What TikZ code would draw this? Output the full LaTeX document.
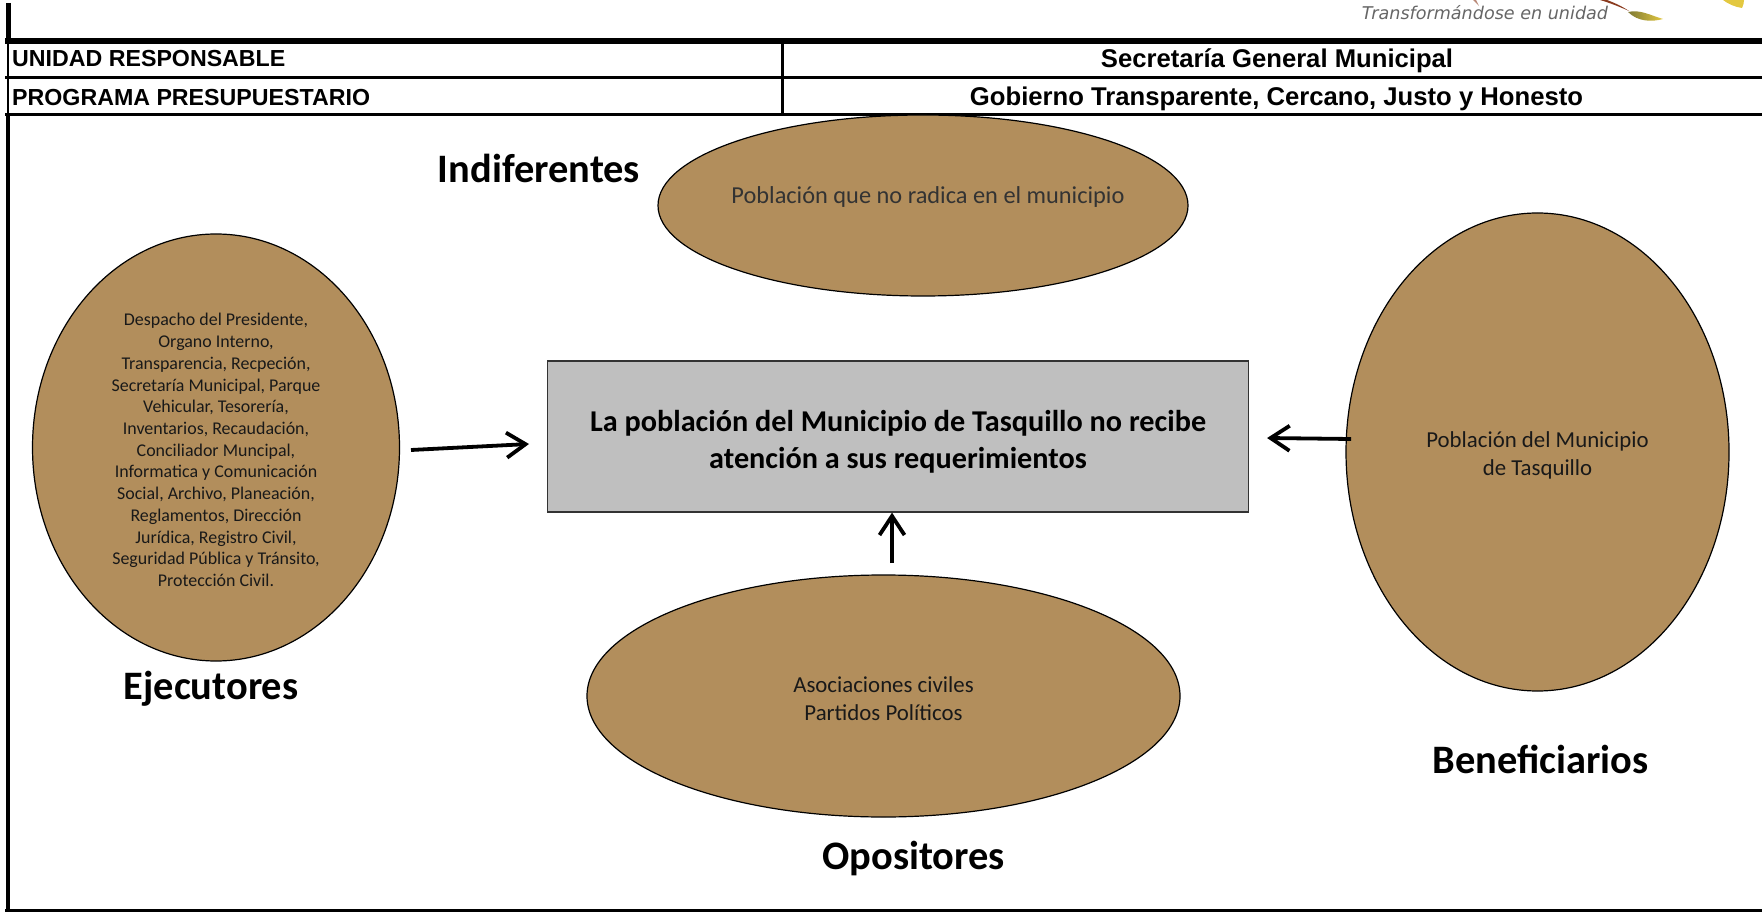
\documentclass[tikz,border=0pt]{standalone}
\usepackage{fontspec}
\setmainfont{Carlito}
\newfontfamily\headfont{Liberation Sans}
\newfontfamily\logofont{DejaVu Sans}
\usepackage{tikz}
\usetikzlibrary{positioning, arrows.meta, shapes.geometric}
\definecolor{tierra}{HTML}{B28E5C}
\definecolor{caja}{HTML}{BFBFBF}
\definecolor{hoja}{HTML}{E3C840}
\definecolor{hojaosc}{HTML}{7F7A35}
\definecolor{tallo}{HTML}{8A3A1E}

\begin{document}
\begin{tikzpicture}[
    actor/.style={ellipse, draw=black, line width=0.12mm, fill=tierra, inner sep=0pt},
    small/.style={font=\fontsize{6.5}{8}\selectfont, align=center, text=black!90},
    tag/.style={font=\fontsize{11.5}{13}\selectfont\bfseries},
    head/.style={font=\fontsize{6.6}{8}\selectfont\headfont\bfseries},
    headcen/.style={font=\fontsize{7.3}{9}\selectfont\headfont\bfseries},
    flow/.style={line width=0.38mm, -{Straight Barb[length=1.9mm, width=2.5mm, line width=0.38mm]}}
]
\useasboundingbox (0, 0) rectangle (17.62, 9.12);

% --- Logo remains ---
\node[font=\fontsize{5}{6}\selectfont\logofont\itshape, text=black!60] (lema) at (14.85, 8.99) {Transformándose en unidad};
\shade[left color=hojaosc, right color=hoja] (16.28, 9.00) .. controls (16.40, 9.03) and (16.52, 8.96) .. (16.63, 8.93) .. controls (16.52, 8.90) and (16.38, 8.90) .. (16.28, 9.00);
\fill[tallo] (16.00, 9.12) .. controls (16.10, 9.09) and (16.20, 9.05) .. (16.29, 9.01) .. controls (16.20, 9.07) and (16.12, 9.10) .. (16.07, 9.12) -- cycle;
\fill[tallo!60] (14.73, 9.12) -- (14.76, 9.12) -- (14.79, 9.06) -- cycle;
\fill[hoja] (17.23, 9.12) -- (17.44, 9.12) .. controls (17.44, 9.09) and (17.43, 9.06) .. (17.42, 9.04) .. controls (17.35, 9.05) and (17.28, 9.08) .. (17.23, 9.12);

% --- Header table ---
\draw[line width=0.053cm] (0.083, 9.09) -- (0.083, 8.74);
\draw[line width=0.025cm] (0.078, 8.74) -- (0.078, 7.97);
\draw[line width=0.048cm] (0.08, 7.97) -- (0.08, 0);
\draw[line width=0.06cm] (0.055, 8.71) -- (17.62, 8.71);
\draw[line width=0.03cm] (0.055, 8.345) -- (17.62, 8.345);
\draw[line width=0.03cm] (0.055, 7.975) -- (17.62, 7.975);
\draw[line width=0.033cm] (7.827, 8.71) -- (7.827, 7.975);
\draw[line width=0.03cm] (0.055, 0.015) -- (17.62, 0.015);

\node[head, anchor=west, inner sep=0pt] (unidad) at (0.115, 8.53) {UNIDAD RESPONSABLE};
\node[head, anchor=west, inner sep=0pt] (programa) at (0.115, 8.14) {PROGRAMA PRESUPUESTARIO};
\node[headcen, inner sep=0pt] (secretaria) at (12.77, 8.51) {Secretaría General Municipal};
\node[headcen, inner sep=0pt] (gobierno) at (12.765, 8.13) {Gobierno Transparente, Cercano, Justo y Honesto};

% --- Central problem ---
\node[draw=black!80, line width=0.12mm, fill=caja, minimum width=7.01cm, minimum height=1.51cm, align=center, font=\fontsize{8.6}{10.4}\selectfont\bfseries] (problema) at (8.98, 4.755) {\rule{0pt}{8.9pt}La población del Municipio de Tasquillo no recibe\\atención a sus requerimientos};

% --- Actors ---
\node[actor, small, font=\fontsize{5.1}{6.18}\selectfont, minimum width=3.67cm, minimum height=4.27cm] (ejecutores) at (2.16, 4.645) {\rule{0pt}{5pt}Despacho del Presidente,\\Organo Interno,\\Transparencia, Recpeción,\\Secretaría Municipal, Parque\\Vehicular, Tesorería,\\Inventarios, Recaudación,\\Conciliador Muncipal,\\Informatica y Comunicación\\Social, Archivo, Planeación,\\Reglamentos, Dirección\\Jurídica, Registro Civil,\\Seguridad Pública y Tránsito,\\Protección Civil.};
\node[actor, minimum width=5.30cm, minimum height=1.81cm] (indiferentes) at (9.23, 7.065) {};
\node[small, font=\fontsize{6.93}{8}\selectfont, text=black!80] (radica) at (9.28, 7.15) {Población que no radica en el municipio};
\node[actor, small, minimum width=3.83cm, minimum height=4.78cm] (beneficiarios) at (15.375, 4.60) {\rule{0pt}{6.7pt}Población del Municipio\\de Tasquillo};
\node[actor, small, minimum width=5.93cm, minimum height=2.42cm] (opositores) at (8.835, 2.16) {\rule{0pt}{6pt}Asociaciones civiles\\Partidos Políticos};

% --- Actor names ---
\node[tag] (tagind) at (5.39, 7.435) {Indiferentes};
\node[tag] (tageje) at (2.11, 2.23) {Ejecutores};
\node[tag] (tagben) at (15.405, 1.53) {Beneficiarios};
\node[tag] (tagopo) at (9.135, 0.535) {Opositores};

% --- Arrows ---
\coordinate (colaeje) at (4.11, 4.62);
\coordinate (puntaeje) at (5.29, 4.68);
\coordinate (colaben) at (13.51, 4.73);
\coordinate (colaopo) at (8.92, 3.49);
\draw[flow] (colaeje) -- (puntaeje);
\draw[flow] (colaben) -- ([xshift=1.8mm, yshift=-0.15mm]problema.east);
\draw[flow] (colaopo) -- (colaopo |- problema.south);

\end{tikzpicture}
\end{document}
